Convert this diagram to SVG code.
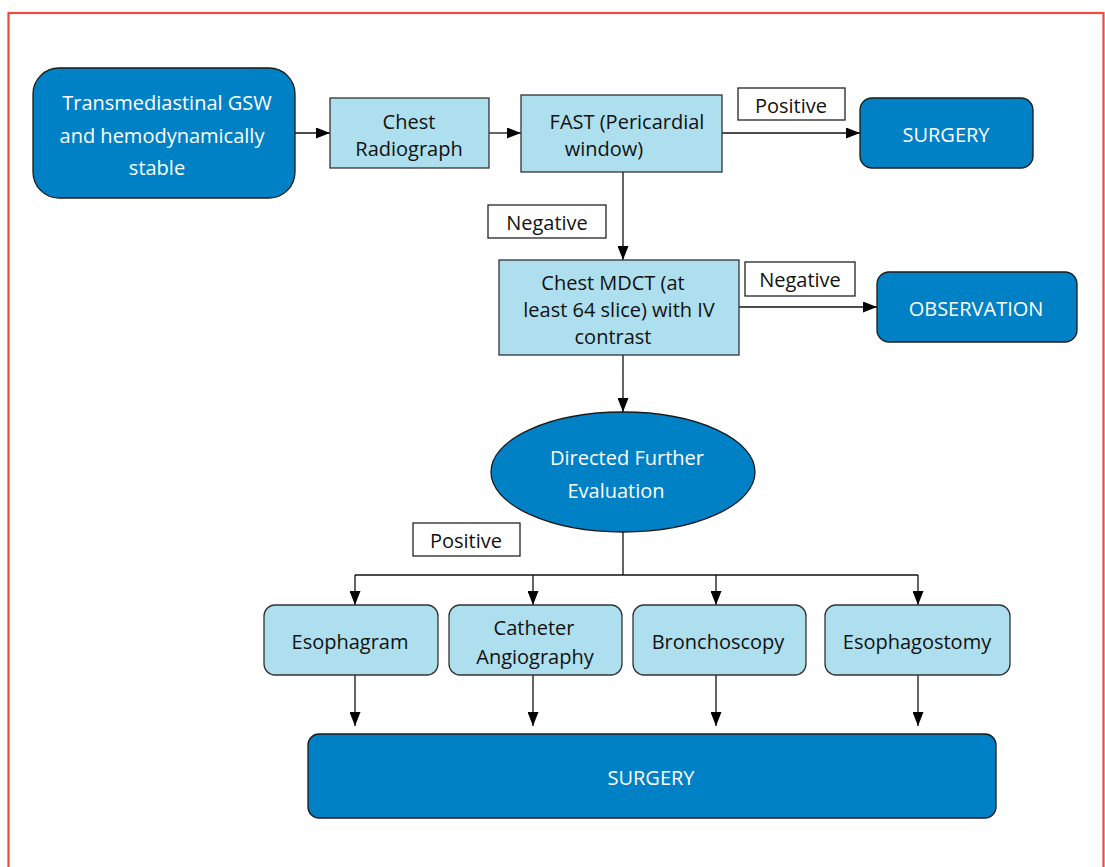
<svg xmlns="http://www.w3.org/2000/svg" width="1105" height="867" viewBox="0 0 1105 867">
<defs>
<marker id="ah" markerWidth="14" markerHeight="11" refX="14" refY="5.5" orient="auto" markerUnits="userSpaceOnUse">
<path d="M0,0 L14,5.5 L0,11 Z" fill="#000"/>
</marker>
<style>
.dark{fill:#0081c6;stroke:#1a1a1a;stroke-width:1.3}
.light{fill:#addfee;stroke:#333;stroke-width:1.3}
.lbl{fill:#fff;stroke:#222;stroke-width:1.3}
text{font-family:"Open Sans","Noto Sans",sans-serif;font-size:20px;text-anchor:middle;dominant-baseline:central}
.w{fill:#fff}
.b{fill:#111}
.c{fill:none;stroke:#111;stroke-width:1.3}
</style>
</defs>
<rect x="0" y="0" width="1105" height="867" fill="#fff"/>
<rect x="8.5" y="13" width="1095" height="870" fill="none" stroke="#ef4a40" stroke-width="2.2"/>
<g id="connectors">
<line class="c" x1="295" y1="133" x2="330" y2="133" marker-end="url(#ah)"/>
<line class="c" x1="489" y1="133" x2="521" y2="133" marker-end="url(#ah)"/>
<line class="c" x1="722" y1="133" x2="860" y2="133" marker-end="url(#ah)"/>
<line class="c" x1="623" y1="172" x2="623" y2="260" marker-end="url(#ah)"/>
<line class="c" x1="739" y1="307" x2="877" y2="307" marker-end="url(#ah)"/>
<line class="c" x1="623" y1="355" x2="623" y2="412" marker-end="url(#ah)"/>
<polyline class="c" points="623,532 623,575"/>
<line class="c" x1="355" y1="575" x2="918" y2="575"/>
<line class="c" x1="355" y1="575" x2="355" y2="605" marker-end="url(#ah)"/>
<line class="c" x1="533" y1="575" x2="533" y2="605" marker-end="url(#ah)"/>
<line class="c" x1="716" y1="575" x2="716" y2="605" marker-end="url(#ah)"/>
<line class="c" x1="918" y1="575" x2="918" y2="605" marker-end="url(#ah)"/>
<line class="c" x1="355" y1="675" x2="355" y2="726" marker-end="url(#ah)"/>
<line class="c" x1="533" y1="675" x2="533" y2="726" marker-end="url(#ah)"/>
<line class="c" x1="716" y1="675" x2="716" y2="726" marker-end="url(#ah)"/>
<line class="c" x1="918" y1="675" x2="918" y2="726" marker-end="url(#ah)"/>
</g>
<g id="start">
<rect class="dark" x="33" y="68" width="262" height="130" rx="26"/>
<text class="w" x="167" y="102">Transmediastinal GSW</text>
<text class="w" x="162" y="135">and hemodynamically</text>
<text class="w" x="157" y="167">stable</text>
</g>
<g id="radiograph">
<rect class="light" x="330" y="98" width="159" height="70"/>
<text class="b" x="409" y="121">Chest</text>
<text class="b" x="409" y="148">Radiograph</text>
</g>
<g id="fast">
<rect class="light" x="521" y="95" width="201" height="77"/>
<text class="b" x="627" y="121">FAST (Pericardial</text>
<text class="b" x="604" y="148">window)</text>
</g>
<g id="lbl-positive1">
<rect class="lbl" x="738" y="88" width="107" height="32"/>
<text class="b" x="791" y="105">Positive</text>
</g>
<g id="surgery1">
<rect class="dark" x="860" y="98" width="173" height="70" rx="12"/>
<text class="w" x="946" y="134">SURGERY</text>
</g>
<g id="lbl-negative1">
<rect class="lbl" x="488" y="205" width="118" height="33"/>
<text class="b" x="547" y="222">Negative</text>
</g>
<g id="mdct">
<rect class="light" x="499" y="260" width="240" height="95"/>
<text class="b" x="613" y="282">Chest MDCT (at</text>
<text class="b" x="619" y="309">least 64 slice) with IV</text>
<text class="b" x="613" y="336">contrast</text>
</g>
<g id="lbl-negative2">
<rect class="lbl" x="745" y="262" width="110" height="34"/>
<text class="b" x="800" y="279">Negative</text>
</g>
<g id="observation">
<rect class="dark" x="877" y="272" width="200" height="70" rx="12"/>
<text class="w" x="976" y="308">OBSERVATION</text>
</g>
<g id="evaluation">
<ellipse class="dark" cx="623" cy="472" rx="132" ry="60"/>
<text class="w" x="627" y="457">Directed Further</text>
<text class="w" x="616" y="490">Evaluation</text>
</g>
<g id="lbl-positive2">
<rect class="lbl" x="413" y="523" width="107" height="33"/>
<text class="b" x="466" y="540">Positive</text>
</g>
<g id="esophagram">
<rect class="light" x="264" y="605" width="174" height="70" rx="11"/>
<text class="b" x="350" y="641">Esophagram</text>
</g>
<g id="angiography">
<rect class="light" x="449" y="605" width="173" height="70" rx="11"/>
<text class="b" x="534" y="627">Catheter</text>
<text class="b" x="535" y="656">Angiography</text>
</g>
<g id="bronchoscopy">
<rect class="light" x="633" y="605" width="173" height="70" rx="11"/>
<text class="b" x="718" y="641">Bronchoscopy</text>
</g>
<g id="esophagostomy">
<rect class="light" x="825" y="605" width="185" height="70" rx="11"/>
<text class="b" x="917" y="641">Esophagostomy</text>
</g>
<g id="surgery2">
<rect class="dark" x="308" y="734" width="688" height="84" rx="11"/>
<text class="w" x="651" y="777">SURGERY</text>
</g>
</svg>
